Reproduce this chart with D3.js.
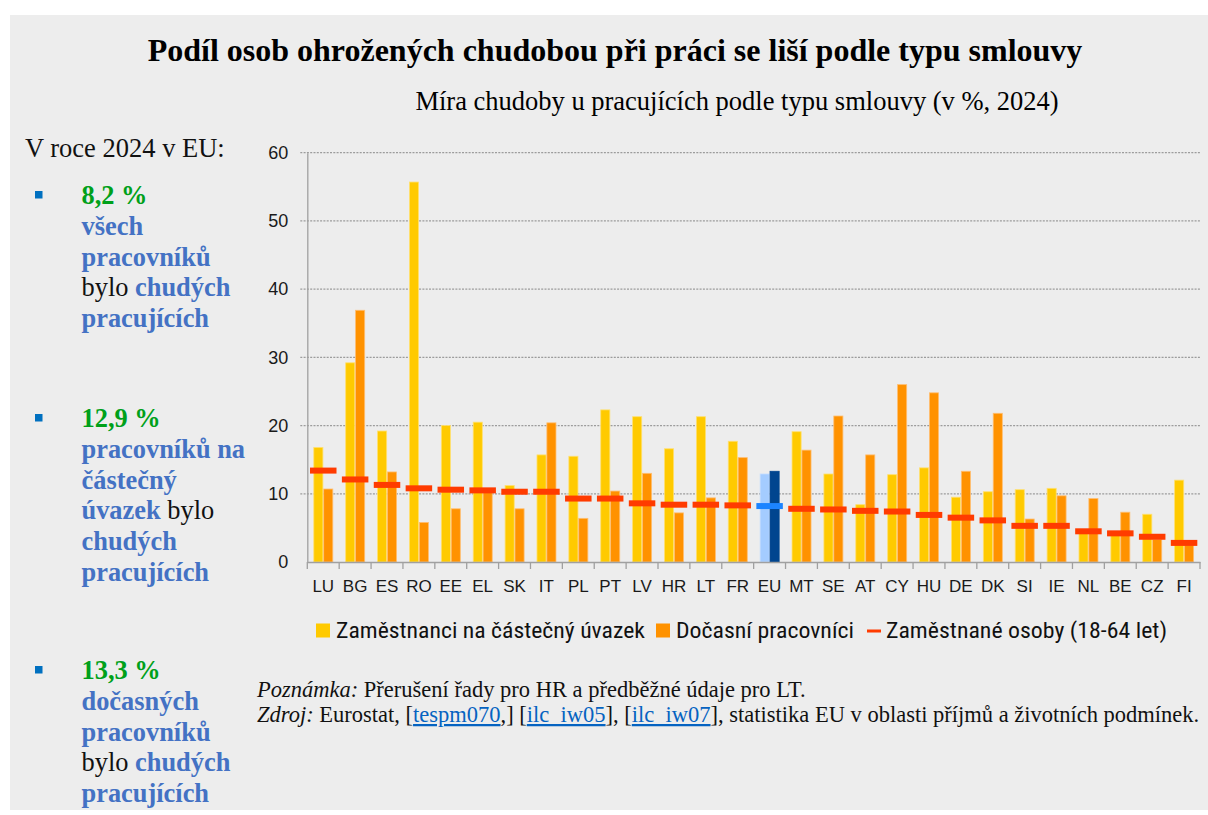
<!DOCTYPE html>
<html>
<head>
<meta charset="utf-8">
<script src="https://cdn.jsdelivr.net/npm/d3@7"></script>
<style>
  body { margin: 0; background: #fff; }
  svg { display: block; }
</style>
</head>
<body>
<svg id="chart"></svg>
<script>
// data (in %, 2024)
var countries = ["LU", "BG", "ES", "RO", "EE", "EL", "SK", "IT", "PL", "PT", "LV", "HR", "LT", "FR",
  "EU", "MT", "SE", "AT", "CY", "HU", "DE", "DK", "SI", "IE", "NL", "BE", "CZ", "FI"];
var partTime = [16.8, 29.2, 19.2, 55.7, 20.0, 20.5, 11.2, 15.7, 15.5, 22.3, 21.3, 16.6, 21.3, 17.7,
  12.9, 19.1, 12.9, 8.4, 12.8, 13.8, 9.5, 10.3, 10.6, 10.8, 4.2, 4.0, 7.0, 12.0];
var temporary = [10.7, 36.9, 13.2, 5.8, 7.8, 10.3, 7.8, 20.4, 6.4, 10.4, 13.0, 7.2, 9.4, 15.3,
  13.3, 16.4, 21.4, 15.7, 26.0, 24.8, 13.3, 21.8, 6.3, 9.7, 9.3, 7.3, 3.3, 2.5];
var employed = [13.4, 12.1, 11.3, 10.8, 10.6, 10.5, 10.3, 10.3, 9.3, 9.3, 8.6, 8.4, 8.4, 8.3,
  8.2, 7.8, 7.7, 7.5, 7.4, 6.9, 6.5, 6.1, 5.3, 5.3, 4.5, 4.2, 3.7, 2.8];
var yTicks = [0, 10, 20, 30, 40, 50, 60];
var seriesNames = ["Zaměstnanci na částečný úvazek", "Dočasní pracovníci", "Zaměstnané osoby (18-64 let)"];

var title = "Podíl osob ohrožených chudobou při práci se liší podle typu smlouvy";
var subtitle = "Míra chudoby u pracujících podle typu smlouvy (v %, 2024)";

var YELLOW = "#FFCA00", ORANGE = "#FF9200", RED = "#FF3B00";
var EU_LIGHT = "#A4CCFF", EU_DARK = "#00458F", EU_LINE = "#1C84FF";
var BLUE_TXT = "#4472C4", GREEN_TXT = "#00A01A";

var width = 1208, height = 815;
var svg = d3.select("#chart").attr("width", width).attr("height", height);

svg.append("rect").attr("x", 10).attr("y", 15).attr("width", width - 10).attr("height", 795)
  .attr("fill", "#EDEDED");

var serif = "'Liberation Serif', 'Times New Roman', serif";

svg.append("text")
  .attr("x", 615).attr("y", 61)
  .attr("text-anchor", "middle")
  .style("font-family", serif)
  .style("font-weight", "bold")
  .style("font-size", "32px")
  .text(title);

svg.append("text")
  .attr("x", 737).attr("y", 110)
  .attr("text-anchor", "middle")
  .style("font-family", serif)
  .style("font-size", "26.5px")
  .text(subtitle);

// ---- chart ----
var plotL = 307.3, plotR = 1200, plotT = 152.7, plotB = 562;

var x0 = d3.scaleBand().domain(countries).range([plotL, plotR]);
var x1 = d3.scaleBand().domain(["p", "t"]).range([6.5, 25.5]).paddingInner(0.08);
var y = d3.scaleLinear().domain([0, 60]).range([plotB, plotT]);

var chart = svg.append("g");

// gridlines
chart.selectAll(".grid")
  .data(yTicks.slice(1))
  .enter()
  .append("line")
  .attr("x1", plotL - 7).attr("x2", plotR)
  .attr("y1", function (d) { return y(d); })
  .attr("y2", function (d) { return y(d); })
  .attr("stroke", "#9C9C9C")
  .attr("stroke-width", 1.3)
  .attr("stroke-dasharray", "2,1.3");

var yaxis = d3.axisLeft(y).tickValues(yTicks).tickSize(0).tickPadding(19);
chart.append("g")
  .attr("transform", "translate(" + plotL + ",0)")
  .call(yaxis)
  .call(function (g) {
    g.select(".domain").attr("stroke", "#A0A0A0").attr("stroke-width", 1.3);
    g.selectAll("text")
      .style("font-family", "'Liberation Sans', Arial, sans-serif")
      .style("font-size", "18px")
      .attr("fill", "#1a1a1a");
  });

var rows = countries.map(function (c, i) {
  return { c: c, p: partTime[i], t: temporary[i], e: employed[i] };
});

var groups = chart.selectAll(".cty")
  .data(rows)
  .enter()
  .append("g")
  .attr("class", "cty")
  .attr("transform", function (d) { return "translate(" + x0(d.c) + ",0)"; });

groups.append("rect")
  .attr("x", x1("p"))
  .attr("width", x1.bandwidth())
  .attr("y", function (d) { return y(d.p); })
  .attr("height", function (d) { return y(0) - y(d.p); })
  .attr("fill", function (d) { return d.c == "EU" ? EU_LIGHT : YELLOW; })
  .attr("stroke", function (d) { return d.c == "EU" ? "#C4DDFF" : "#FFE070"; })
  .attr("stroke-width", 0.8);

groups.append("rect")
  .attr("x", x1("t"))
  .attr("width", x1.bandwidth())
  .attr("y", function (d) { return y(d.t); })
  .attr("height", function (d) { return y(0) - y(d.t); })
  .attr("fill", function (d) { return d.c == "EU" ? EU_DARK : ORANGE; })
  .attr("stroke", function (d) { return d.c == "EU" ? EU_DARK : "#FFBE70"; })
  .attr("stroke-width", 0.8);

groups.append("rect")
  .attr("x", 2.7)
  .attr("width", 26.5)
  .attr("y", function (d) { return y(d.e) - 3; })
  .attr("height", 6)
  .attr("fill", function (d) { return d.c == "EU" ? EU_LINE : RED; });

var xaxis = d3.axisBottom(x0).tickSize(0).tickPadding(18);
chart.append("g")
  .attr("transform", "translate(0," + plotB + ")")
  .call(xaxis)
  .call(function (g) {
    g.select(".domain").attr("stroke", "#A0A0A0").attr("stroke-width", 1.5);
    g.selectAll("text")
      .style("font-family", "'Liberation Sans', Arial, sans-serif")
      .style("font-size", "17px")
      .attr("fill", "#1a1a1a");
  });

// ticks between the categories
chart.selectAll(".xt")
  .data(countries.concat(["end"]))
  .enter()
  .append("line")
  .attr("x1", function (d, i) { return plotL + i * x0.step(); })
  .attr("x2", function (d, i) { return plotL + i * x0.step(); })
  .attr("y1", plotB).attr("y2", plotB + 7)
  .attr("stroke", "#A0A0A0").attr("stroke-width", 1.3);

// ---- legend ----
var legFont = "'Liberation Sans Narrow', 'Roboto Condensed', 'Arial Narrow', 'Liberation Sans', sans-serif";
var legend = svg.append("g");
var legItems = [
  { x: 316, kind: "box", color: YELLOW, tx: 336, label: seriesNames[0], w: 309 },
  { x: 656, kind: "box", color: ORANGE, tx: 676, label: seriesNames[1], w: 178 },
  { x: 867, kind: "dash", color: RED, tx: 886, label: seriesNames[2], w: 281 }
];
legItems.forEach(function (it) {
  if (it.kind == "box") {
    legend.append("rect").attr("x", it.x).attr("y", 623.5).attr("width", 14).attr("height", 14)
      .attr("fill", it.color);
  } else {
    legend.append("rect").attr("x", it.x).attr("y", 629.5).attr("width", 14).attr("height", 3)
      .attr("fill", it.color);
  }
  legend.append("text")
    .attr("x", it.tx).attr("y", 638)
    .attr("textLength", it.w).attr("lengthAdjust", "spacingAndGlyphs")
    .style("font-family", legFont)
    .style("font-size", "22px")
    .attr("fill", "#111")
    .text(it.label);
});

// ---- footnotes ----
var note = svg.append("text").attr("x", 257).attr("y", 697)
  .style("font-family", serif).style("font-size", "22.5px").attr("fill", "#111");
note.append("tspan").style("font-style", "italic").text("Poznámka:");
note.append("tspan").text(" Přerušení řady pro HR a předběžné údaje pro LT.");

var src = svg.append("text").attr("x", 257).attr("y", 722)
  .style("font-family", serif).style("font-size", "22.5px").attr("fill", "#111");
var srcParts = [
  { t: "Zdroj:", it: true },
  { t: " Eurostat, [" },
  { t: "tespm070", link: true },
  { t: ",] [" },
  { t: "ilc_iw05", link: true },
  { t: "], [" },
  { t: "ilc_iw07", link: true },
  { t: "], statistika EU v oblasti příjmů a životních podmínek." }
];
srcParts.forEach(function (p) {
  var ts = src.append("tspan").text(p.t);
  if (p.it) ts.style("font-style", "italic");
  if (p.link) ts.attr("fill", "#0563C1").style("text-decoration", "underline");
});

// ---- left panel ----
svg.append("text").attr("x", 25).attr("y", 157)
  .style("font-family", serif).style("font-size", "26.5px").attr("fill", "#111")
  .text("V roce 2024 v EU:");

// each line: [text, style] where g=green bold, b=blue bold, n=normal black
var bullets = [
  { y: 204, lines: [[["8,2 %", "g"]], [["všech", "b"]], [["pracovníků", "b"]],
    [["bylo ", "n"], ["chudých", "b"]], [["pracujících", "b"]]] },
  { y: 427, lines: [[["12,9 %", "g"]], [["pracovníků na", "b"]], [["částečný", "b"]],
    [["úvazek", "b"], [" bylo", "n"]], [["chudých", "b"]], [["pracujících", "b"]]] },
  { y: 679, lines: [[["13,3 %", "g"]], [["dočasných", "b"]], [["pracovníků", "b"]],
    [["bylo ", "n"], ["chudých", "b"]], [["pracujících", "b"]]] }
];
var lineH = 30.8;
bullets.forEach(function (b) {
  svg.append("rect").attr("x", 35).attr("y", b.y - 13).attr("width", 7.5).attr("height", 7.5)
    .attr("fill", "#0070C0");
  b.lines.forEach(function (ln, i) {
    var t = svg.append("text").attr("x", 81.5).attr("y", b.y + i * lineH)
      .style("font-family", serif).style("font-size", "26.4px");
    ln.forEach(function (seg) {
      var ts = t.append("tspan").text(seg[0]);
      if (seg[1] == "g") ts.attr("fill", GREEN_TXT).style("font-weight", "bold");
      else if (seg[1] == "b") ts.attr("fill", BLUE_TXT).style("font-weight", "bold");
      else ts.attr("fill", "#111");
    });
  });
});
</script>
</body>
</html>
